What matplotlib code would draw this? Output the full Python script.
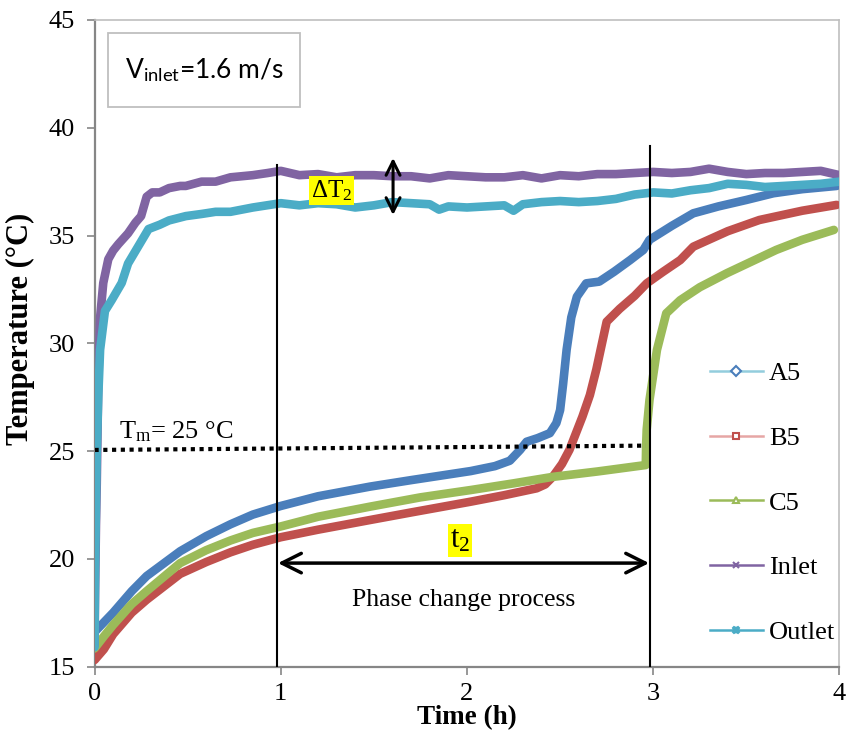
import matplotlib
matplotlib.use("Agg")
import matplotlib.pyplot as plt
from matplotlib.lines import Line2D
from matplotlib.patches import Rectangle

plt.rcParams['font.family'] = ['Liberation Serif', 'DejaVu Serif']
plt.rcParams['mathtext.fontset'] = 'custom'
plt.rcParams['mathtext.rm'] = 'Liberation Serif'
plt.rcParams['mathtext.it'] = 'Liberation Serif:italic'
plt.rcParams['mathtext.bf'] = 'Liberation Serif:bold'
plt.rcParams['mathtext.sf'] = 'Lato'

# ---------------- data ----------------
a5_t = [0, 0.05, 0.1, 0.2, 0.28, 0.46, 0.6, 0.73, 0.85, 1.0, 1.2, 1.48, 1.7, 2.02, 2.15, 2.23,
        2.285, 2.32, 2.38, 2.445, 2.48, 2.50, 2.516, 2.535, 2.56, 2.59, 2.64, 2.71, 2.79,
        2.876, 2.947, 2.98, 3.1, 3.215, 3.35, 3.5, 3.645, 3.8, 3.985]
a5_v = [16.6, 17.05, 17.5, 18.5, 19.2, 20.35, 21.05, 21.6, 22.05, 22.45, 22.9, 23.35, 23.65,
        24.07, 24.3, 24.55, 25.05, 25.43, 25.6, 25.83, 26.3, 26.9, 28.1, 29.7, 31.2, 32.16,
        32.78, 32.86, 33.32, 33.86, 34.33, 34.8, 35.45, 36.03, 36.35, 36.65, 36.96, 37.15, 37.3]

b5_t = [0, 0.05, 0.1, 0.2, 0.28, 0.46, 0.6, 0.73, 0.85, 1.0, 1.2, 1.48, 1.7, 2.02, 2.2,
        2.374, 2.42, 2.46, 2.51, 2.55, 2.62, 2.66, 2.695, 2.75, 2.82, 2.9, 2.965, 3.05,
        3.145, 3.215, 3.4, 3.57, 3.8, 3.985]
b5_v = [15.3, 15.8, 16.5, 17.5, 18.1, 19.3, 19.85, 20.3, 20.65, 21.0, 21.35, 21.8, 22.15,
        22.65, 22.95, 23.27, 23.45, 23.8, 24.4, 25.05, 26.6, 27.6, 28.8, 31.0, 31.6, 32.2,
        32.78, 33.3, 33.86, 34.48, 35.2, 35.72, 36.15, 36.42]

c5_t = [0, 0.05, 0.1, 0.2, 0.28, 0.46, 0.6, 0.73, 0.85, 1.0, 1.2, 1.48, 1.75, 2.02, 2.25,
        2.46, 2.7, 2.96, 2.962, 2.965, 2.98, 3.02, 3.07, 3.145, 3.25, 3.395, 3.53, 3.66,
        3.8, 3.97]
c5_v = [15.84, 16.4, 16.93, 17.9, 18.5, 19.8, 20.4, 20.85, 21.2, 21.5, 21.95, 22.42,
        22.85, 23.19, 23.5, 23.8, 24.05, 24.35, 25.3, 26.0, 27.37, 29.69, 31.39, 32.0, 32.6,
        33.25, 33.8, 34.33, 34.8, 35.26]

inlet_t = [0, 0.003, 0.008, 0.012, 0.02, 0.03, 0.047, 0.074, 0.10, 0.128, 0.18, 0.22, 0.25,
           0.28, 0.31, 0.35, 0.40, 0.46, 0.49, 0.575, 0.65, 0.73, 0.85, 0.93, 1.0, 1.1, 1.2,
           1.3, 1.4, 1.5, 1.6, 1.7, 1.8, 1.9, 2.0, 2.1, 2.2, 2.3, 2.4, 2.5, 2.6, 2.7, 2.8,
           2.9, 3.0, 3.1, 3.2, 3.3, 3.4, 3.5, 3.6, 3.7, 3.8, 3.9, 4.0]
inlet_v = [16.0, 18.5, 21.7, 23.5, 28.1, 31.2, 32.8, 33.9, 34.3, 34.6, 35.1, 35.6, 35.9,
           36.8, 37.0, 37.0, 37.2, 37.3, 37.3, 37.5, 37.5, 37.7, 37.8, 37.9, 38.0, 37.8,
           37.85, 37.7, 37.8, 37.8, 37.75, 37.75, 37.65, 37.8, 37.75, 37.7, 37.7, 37.8,
           37.65, 37.8, 37.75, 37.85, 37.85, 37.9, 37.95, 37.9, 37.95, 38.1, 37.95, 37.85,
           37.9, 37.9, 37.95, 38.0, 37.8]

outlet_t = [0, 0.003, 0.012, 0.02, 0.03, 0.056, 0.092, 0.146, 0.18, 0.235, 0.29, 0.35, 0.40,
            0.49, 0.575, 0.65, 0.73, 0.85, 1.0, 1.1, 1.2, 1.3, 1.4, 1.5, 1.6, 1.7, 1.8,
            1.85, 1.9, 2.0, 2.1, 2.2, 2.25, 2.3, 2.4, 2.5, 2.6, 2.7, 2.8, 2.9, 3.0, 3.1, 3.2,
            3.3, 3.4, 3.5, 3.6, 3.7, 3.8, 3.9, 4.0]
outlet_v = [15.9, 19.6, 25.0, 27.5, 29.7, 31.5, 32.0, 32.8, 33.7, 34.5, 35.3, 35.5, 35.7,
            35.9, 36.0, 36.1, 36.1, 36.3, 36.5, 36.4, 36.5, 36.45, 36.3, 36.4, 36.55, 36.5,
            36.45, 36.2, 36.35, 36.3, 36.35, 36.4, 36.15, 36.45, 36.55, 36.6, 36.55, 36.6,
            36.7, 36.9, 37.0, 36.95, 37.1, 37.2, 37.4, 37.35, 37.25, 37.3, 37.35, 37.4, 37.5]

names = ['A5', 'B5', 'C5', 'Inlet', 'Outlet']
colors = ['#4A7EBB', '#C0504D', '#9BBB59', '#8064A2', '#4BACC6']
legend_line_colors = ['#93CDDD', '#E6A6A5', '#9BBB59', '#8064A2', '#4BACC6']
markers = ['D', 's', '^', 'x', 'X']

tm_t = [0.0, 2.96]
tm_v = [25.05, 25.25]
x_ticks = [0, 1, 2, 3, 4]
y_ticks = [15, 20, 25, 30, 35, 40, 45]

# ---------------- figure ----------------
fig = plt.figure(figsize=(8.47, 7.49), dpi=100)
ax = fig.add_axes([0.1116, 0.1101, 0.8795, 0.8632])

series = [(a5_t, a5_v), (b5_t, b5_v), (c5_t, c5_v), (inlet_t, inlet_v), (outlet_t, outlet_v)]
for (t, v), c in zip(series, colors):
    ax.plot(t, v, color=c, lw=6.2, solid_joinstyle='round', solid_capstyle='round', zorder=3)

ax.set_xlim(0, 4)
ax.set_ylim(15, 45)
ax.set_xticks(x_ticks)
ax.set_yticks(y_ticks)
ax.tick_params(axis='both', direction='out', length=6, width=1.2, color='#868686',
               labelsize=19)
ax.tick_params(axis='y', pad=8)
ax.tick_params(axis='x', pad=6)
for s in ['left', 'bottom']:
    ax.spines[s].set_color('#868686')
    ax.spines[s].set_linewidth(1.6)
for s in ['top', 'right']:
    ax.spines[s].set_color('#BFBFBF')
    ax.spines[s].set_linewidth(1.2)

ax.set_xlabel('Time (h)', fontsize=19.5, fontweight='bold', labelpad=0)
ax.set_ylabel('Temperature (°C)', fontsize=22, fontweight='bold')
ax.yaxis.set_label_coords(-0.08, 0.522)

# melting line
ax.plot(tm_t, tm_v, color='black', lw=3, linestyle=(0, (1, 1.1)), dash_capstyle='butt', zorder=4)
ax.text(0.133, 25.6, 'T$_\\mathrm{m}$= 25 °C', fontsize=19, ha='left', va='baseline', zorder=5)

# vertical boundary lines
ax.plot([0.98, 0.98], [15, 38.27], color='black', lw=1.5, zorder=6)
ax.plot([2.983, 2.983], [15, 39.15], color='black', lw=1.5, zorder=6)

# horizontal t2 arrow
ax.annotate('', xy=(0.985, 19.8), xytext=(2.978, 19.8),
            arrowprops=dict(arrowstyle='<->,head_length=1.4,head_width=0.7', color='black',
                            lw=2.5, shrinkA=0, shrinkB=0), zorder=7)
ax.text(1.963, 20.85, 't$_\\mathrm{2}$', fontsize=22, ha='center', va='center',
        bbox=dict(facecolor='#FFFF00', edgecolor='none', pad=1.5), zorder=7)
ax.text(1.98, 18.1, 'Phase change process', fontsize=18.5, ha='center', va='center', zorder=7)

# vertical delta T arrow
ax.annotate('', xy=(1.603, 38.6), xytext=(1.603, 35.95),
            arrowprops=dict(arrowstyle='<->,head_length=1.0,head_width=0.5', color='black',
                            lw=2.2, shrinkA=0, shrinkB=0), zorder=7)
ax.text(1.273, 37.1, 'ΔT$_\\mathrm{2}$', fontsize=18, ha='center', va='center',
        bbox=dict(facecolor='#FFFF00', edgecolor='none', pad=1.5), zorder=7)

# velocity box
ax.add_patch(Rectangle((0.0725, 40.96), 1.104 - 0.0725, 44.40 - 40.96, facecolor='white',
                       edgecolor='#BFBFBF', lw=1.3, zorder=8))
ax.text(0.588, 42.68, 'V$_{\\mathsf{inlet}}$=1.6 m/s', family='Lato', fontsize=19,
        ha='center', va='center', zorder=9)

# legend
handles = [Line2D([0], [0], color=lc, lw=1.8, marker=m, markersize=5,
                  markerfacecolor='white' if m in ('D', 's', '^') else c,
                  markeredgecolor=c, markeredgewidth=1.5)
           for lc, c, m in zip(legend_line_colors, colors, markers)]
leg = ax.legend(handles, names, loc='center left', bbox_to_anchor=(0.826, 0.253),
                frameon=False, fontsize=19, handlelength=2.0, handletextpad=0.25,
                labelspacing=1.56, borderpad=0, borderaxespad=0)
leg.set_zorder(9)

fig.savefig('out.png', dpi=100)
